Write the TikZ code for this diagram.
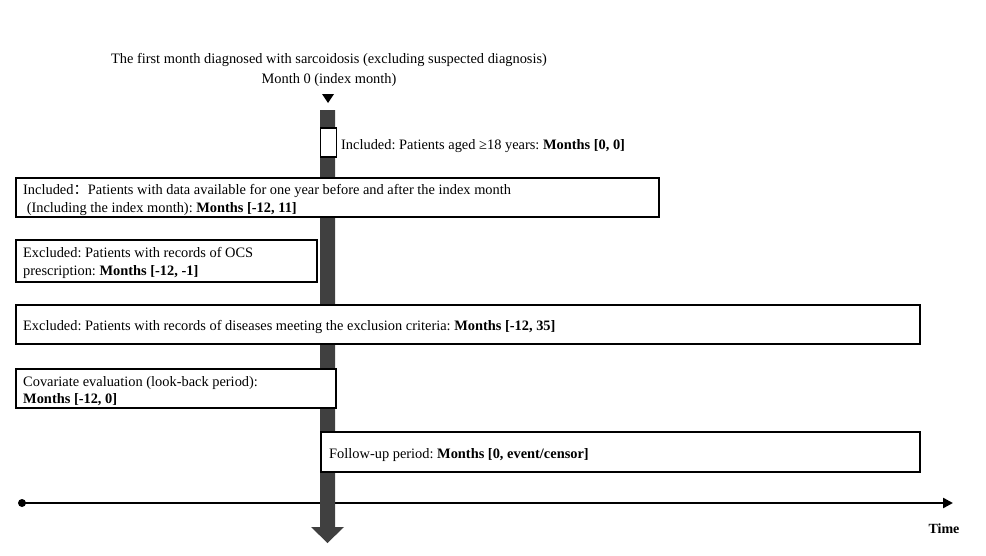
\documentclass[tikz,border=0pt]{standalone}
\usepackage{fontspec}
\setmainfont{Liberation Serif}
\newfontfamily\cjk{Noto Sans CJK SC}
\usetikzlibrary{arrows.meta}
\definecolor{bargrey}{HTML}{404040}
\frenchspacing
\tikzset{
  critbox/.style={draw=black, line width=1.3pt, fill=white, inner sep=0pt},
  crittext/.style={anchor=west, align=left, font=\fontsize{14.4}{17.5}\selectfont, inner sep=0pt},
}
\begin{document}
\begin{tikzpicture}[x=1pt, y=-1pt]
\useasboundingbox (0,0) rectangle (986,555);
% title
\node[font=\fontsize{14.4}{17}\selectfont, inner sep=0pt] (title) at (329,60) {The first month diagnosed with sarcoidosis (excluding suspected diagnosis)};
\node[font=\fontsize{14.4}{17}\selectfont, inner sep=0pt] (month0) at (329,80) {Month 0 (index month)};
\fill[black] (322,94) -- (334,94) -- (328,103) -- cycle;
% time axis
\coordinate (axs) at (22,503);
\coordinate (axe) at (953,503);
\fill (axs) circle (4);
\draw[line width=2.4pt, -{Triangle[length=10pt,width=10pt]}] (axs) -- (axe);
\node[font=\fontsize{14}{16}\selectfont\bfseries, inner sep=0pt] (time) at (944,529) {Time};
% grey index bar with arrow head
\fill[bargrey] (320,110) -- (335,110) -- (335,527) -- (344,527) -- (327.5,543) -- (311,527) -- (320,527) -- cycle;
% small box
\node[critbox, minimum width=16pt, minimum height=29pt] (age) at (328.5,142.5) {};
\node[crittext] (agetxt) at (341,146.5) {Included: Patients aged ≥18 years: \textbf{Months [0, 0]}};
% boxes
\draw[critbox] (16,178) rectangle (659,217);
\node[crittext] (inc2) at (23,200) {Included{\cjk ：}Patients with data available for one year before and after the index month\\\ (Including the index month): \textbf{Months [-12, 11]}};
\draw[critbox] (16,240) rectangle (317,282);
\node[crittext] (ocs) at (23,263) {Excluded: Patients with records of OCS\\prescription: \textbf{Months [-12, -1]}};
\draw[critbox] (16,305) rectangle (920,344);
\node[crittext] (dis) at (23,326.5) {Excluded: Patients with records of diseases meeting the exclusion criteria: \textbf{Months [-12, 35]}};
\draw[critbox] (16,369) rectangle (336,408);
\node[crittext] (cov) at (23,391) {Covariate evaluation (look-back period):\\\textbf{Months [-12, 0]}};
\draw[critbox] (321,432) rectangle (920,472);
\node[crittext] (fu) at (329,455) {Follow-up period: \textbf{Months [0, event/censor]}};
\end{tikzpicture}
\end{document}
